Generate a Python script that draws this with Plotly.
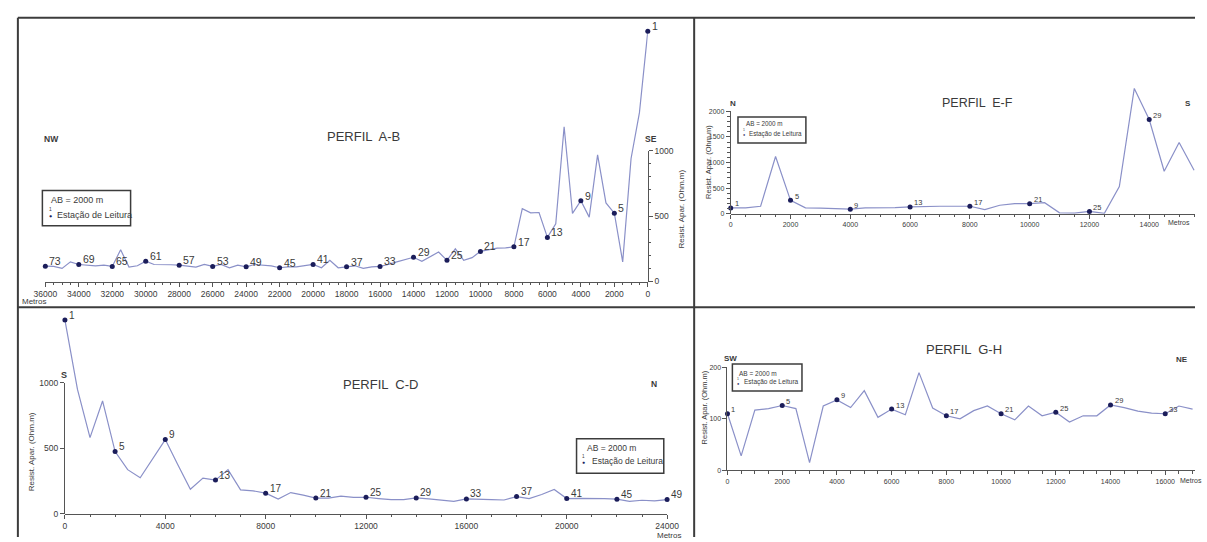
import plotly.graph_objects as go

W, H = 1207, 542
def X(px): return px / W
def Y(py): return 1 - py / H

STEP_M = 500  # spacing between reading stations (m)

# Apparent resistivity (Ohm.m), one value per station, starting at 0 m
ab_res = [1912, 1290, 940, 150, 522, 600, 967, 492, 617, 520,
          1182, 440, 337, 527, 525, 557, 265, 257, 255, 240,
          230, 182, 162, 250, 162, 225, 187, 155, 185, 170,
          150, 130, 115, 112, 100, 120, 112, 105, 162, 105,
          130, 120, 112, 112, 105, 120, 125, 130, 112, 125,
          105, 130, 115, 130, 110, 120, 125, 128, 130, 130,
          155, 120, 110, 242, 115, 125, 120, 125, 130, 150,
          100, 115, 117]
ef_res = [115, 115, 147, 1118, 262, 115, 109, 102, 90, 115,
          115, 121, 134, 147, 147, 147, 147, 83, 166, 198,
          198, 217, 19, 13, 45, 8, 530, 2447, 1840, 830,
          1393, 850]
cd_res = [1480, 950, 582, 862, 475, 337, 275, 420, 567, 375,
          187, 272, 257, 337, 182, 175, 157, 112, 162, 142,
          120, 120, 135, 125, 126, 116, 108, 108, 121, 113,
          103, 95, 113, 108, 108, 105, 131, 116, 147, 185,
          116, 118, 118, 116, 111, 95, 103, 98, 108]
gh_res = [110, 28, 117, 120, 126, 120, 15, 125, 137, 122,
          155, 103, 119, 108, 190, 121, 106, 100, 116, 125,
          110, 98, 125, 106, 113, 94, 106, 106, 127, 122,
          115, 111, 110, 125, 119]

def dists(res):
    return [i * STEP_M for i in range(len(res))]

LINE = "#8a90c8"
MK = "#1b1d5a"
TXT = "#3a3a3a"
AX = "#555555"
BORDER = "#3c3c3c"
FONT = "Liberation Sans, Arial, sans-serif"

fig = go.Figure()
ann = []

def profile(res, xa, ya, lbl, yshift):
    dist = dists(res)
    fig.add_trace(go.Scatter(x=dist, y=res, mode="lines",
                             line=dict(color=LINE, width=1.2),
                             xaxis=xa, yaxis=ya, hoverinfo="skip", showlegend=False))
    idx = list(range(0, len(res), 4))
    fig.add_trace(go.Scatter(x=[dist[i] for i in idx], y=[res[i] for i in idx],
                             mode="markers", marker=dict(size=5, color=MK),
                             cliponaxis=False, xaxis=xa, yaxis=ya, showlegend=False))
    for i in idx:
        ann.append(dict(text=str(i + 1), x=dist[i], y=res[i], xref=xa, yref=ya,
                        showarrow=False, xanchor="left", yanchor="middle",
                        xshift=2, yshift=yshift,
                        font=dict(size=lbl, color=TXT, family=FONT)))

def dummy(xa, ya):
    fig.add_trace(go.Scatter(x=[None], y=[None], xaxis=xa, yaxis=ya,
                             showlegend=False, hoverinfo="skip"))

profile(ab_res, "x", "y", 10.5, 5)
profile(ef_res, "x2", "y2", 7.5, 4)
profile(cd_res, "x3", "y3", 10, 5)
profile(gh_res, "x4", "y4", 7.5, 4)
dummy("x", "y5")
dummy("x2", "y6")
dummy("x3", "y7")

def xax(dom, rng, dtick, minor, fs, anchor):
    return dict(domain=dom, range=rng, anchor=anchor, showline=True, linecolor=AX,
                linewidth=1, ticks="outside", ticklen=4, tickcolor=AX, tick0=0,
                dtick=dtick, tickformat="d",
                minor=dict(ticks="outside", ticklen=2.5, dtick=minor,
                           tickcolor=AX, showgrid=False),
                showgrid=False, zeroline=False,
                tickfont=dict(size=fs, color=TXT, family=FONT), fixedrange=True)

def hid(dom, rng, anchor):
    return dict(domain=dom, range=rng, anchor=anchor, visible=False, fixedrange=True)

def yax(dom, rng, anchor, side, tv, mtv, fs):
    return dict(domain=dom, range=rng, anchor=anchor, side=side, showline=True,
                linecolor=AX, linewidth=1, ticks="outside", ticklen=4, tickcolor=AX,
                tickvals=tv, tickformat="d",
                minor=dict(ticks="outside", ticklen=2.5, tickvals=mtv,
                           tickcolor=AX, showgrid=False),
                showgrid=False, zeroline=False,
                tickfont=dict(size=fs, color=TXT, family=FONT), fixedrange=True)

fig.update_layout(
    width=W, height=H, margin=dict(l=0, r=0, t=0, b=0),
    paper_bgcolor="white", plot_bgcolor="rgba(0,0,0,0)", showlegend=False,
    xaxis=xax([X(34), X(648.7)], [36000, 0], 2000, 500, 8.5, "y"),
    yaxis=hid([Y(281.7), Y(15)], [0, 2000], "x"),
    yaxis5=yax([Y(281.7), Y(148.3)], [0, 1000], "x", "right",
               [0, 500, 1000], list(range(100, 1000, 100)), 8.5),
    xaxis2=xax([X(733.3), 1.0], [0, 15531], 2000, 500, 7, "y2"),
    yaxis2=hid([Y(212.7), Y(77)], [0, 2600], "x2"),
    yaxis6=yax([Y(212.7), Y(108.3)], [0, 2000], "x2", "left",
               [0, 500, 1000, 1500, 2000], list(range(100, 2000, 100)), 7),
    xaxis3=xax([X(54), X(668.4)], [0, 24000], 4000, 1000, 8.5, "y3"),
    yaxis3=hid([Y(518.3), Y(311.7)], [0, 1550], "x3"),
    yaxis7=yax([Y(518.3), Y(385)], [0, 1000], "x3", "left",
               [0, 500, 1000], [], 8.5),
    xaxis4=xax([X(730), 1.0], [0, 17088], 2000, 500, 7, "y4"),
    yaxis4=yax([Y(474), Y(369.3)], [0, 200], "x4", "left", [0, 100, 200], [], 7),
)

shapes = []
def pline(x0, y0, x1, y1, w=2):
    shapes.append(dict(type="line", xref="paper", yref="paper", x0=X(x0), y0=Y(y0),
                       x1=X(x1), y1=Y(y1), line=dict(color=BORDER, width=w)))
# panel borders
pline(6, 13, W, 13)
pline(6, 13, 6, H)
pline(6, 308, W, 308)
pline(696, 13, 696, H)

def txt(s, x, y, fs, xanchor="center", bold=False, angle=0, color=TXT):
    ann.append(dict(text=("<b>%s</b>" % s) if bold else s, x=X(x), y=Y(y),
                    xref="paper", yref="paper", showarrow=False, xanchor=xanchor,
                    yanchor="middle", textangle=angle,
                    font=dict(size=fs, color=color, family=FONT)))

def legend_box(x0, y0, x1, y1, t1, t2, m, fs):
    shapes.append(dict(type="rect", xref="paper", yref="paper", x0=X(x0), y0=Y(y0),
                       x1=X(x1), y1=Y(y1), line=dict(color=BORDER, width=1.5),
                       fillcolor="white"))
    txt("AB = 2000 m", t1[0], t1[1], fs, "left")
    txt("Estação de Leitura", t2[0], t2[1], fs, "left")
    txt("●", m[0], m[1], fs * 0.6, "center", color=MK)
    txt("1", m[0], m[1] - fs * 0.75, fs * 0.55, "center")

# Perfil A-B
txt("PERFIL  A-B", 359, 134, 13)
txt("NW", 40, 137, 8.5, bold=True)
txt("SE", 652, 137, 8.5, bold=True)
txt("Resist. Apar. (Ohm.m)", 683, 208, 8, angle=-90)
txt("Metros", 8, 302.5, 8, "left")
legend_box(31, 189, 121, 225, (38, 199), (44, 214), (39, 215), 9)

# Perfil E-F
txt("PERFIL  E-F", 985, 99.5, 12.5)
txt("N", 736, 100, 8, bold=True)
txt("S", 1200, 100, 8, bold=True)
txt("Resist. Apar. (Ohm.m)", 710, 160, 7.5, angle=-90)
txt("Metros", 1177, 222, 7, "left")
legend_box(740.7, 114, 810, 140.7, (746.5, 120.7), (750, 131.7), (746.5, 132.5), 6.3)

# Perfil C-D
txt("PERFIL  C-D", 376, 386.5, 13)
txt("S", 53, 376.5, 9, bold=True)
txt("N", 655, 386.5, 8.5, bold=True)
txt("Resist. Apar. (Ohm.m)", 20, 455, 8, angle=-90)
txt("Metros", 670, 540, 8)
legend_box(576, 442, 665, 477, (585, 451), (590, 464.5), (583, 466), 8.5)

# Perfil G-H
txt("PERFIL  G-H", 971, 351, 13)
txt("SW", 733, 360, 8, bold=True)
txt("NE", 1194, 361, 8, bold=True)
txt("Resist. Apar. (Ohm.m)", 706, 410, 7.5, angle=-90)
txt("Metros", 1190, 484.5, 7, "left")
legend_box(735, 365.7, 806, 393.3, (740, 375), (745, 384.5), (741, 385.5), 6.5)

fig.update_layout(shapes=shapes, annotations=ann)
fig.write_html("out.html")
